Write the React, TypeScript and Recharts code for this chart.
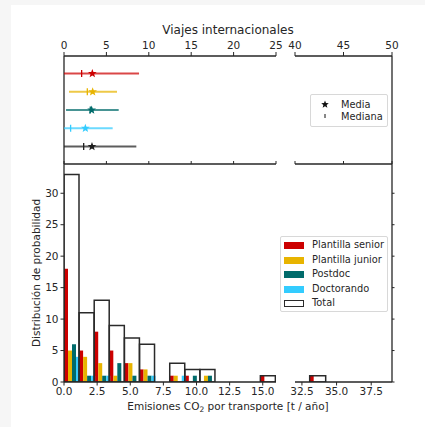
import React from 'react';
import { ComposedChart, Scatter, Bar, XAxis, YAxis } from 'recharts';

const FONT = '"DejaVu Sans", "Liberation Sans", sans-serif';
const INK = '#262626';

// ---- top panel: international trips ----
const groups = ['Plantilla senior', 'Plantilla junior', 'Postdoc', 'Doctorando', 'Total'];
const groupRow = [4, 3, 2, 1, 0];
const travelMean = [3.34, 3.38, 3.26, 2.52, 3.3];
const travelMedian = [2.08, 2.75, 3.1, 0.78, 2.32];
const travelLow = [0, 0.59, 0.24, 0, 0];
const travelHigh = [8.85, 6.25, 6.45, 5.74, 8.53];
const tripTicksLeft = [0, 5, 10, 15, 20, 25];
const tripTicksRight = [40, 45, 50];

// ---- bottom panel: histogram of emissions ----
const binCenters = [0.57, 1.71, 2.85, 3.99, 5.13, 6.27, 7.41, 8.55, 9.69, 10.83, 11.97, 13.11, 14.25, 15.39, 33.63];
const seniorCounts = [18, 5, 8, 5, 3, 2, 0, 1, 1, 0, 0, 0, 0, 1, 1];
const juniorCounts = [5, 4, 3, 1, 3, 2, 0, 1, 0, 1, 0, 0, 0, 0, 0];
const postdocCounts = [6, 1, 1, 3, 1, 1, 0, 0, 1, 1, 0, 0, 0, 0, 0];
const doctorandoCounts = [4, 1, 1, 0, 0, 1, 0, 1, 0, 0, 0, 0, 0, 0, 0];
const totalCounts = [33, 11, 13, 9, 7, 6, 0, 3, 2, 2, 0, 0, 0, 1, 1];
const emisTicksLeft = [0, 2.5, 5, 7.5, 10, 12.5, 15];
const emisTicksRight = [32.5, 35, 37.5];
const countTicks = [0, 5, 10, 15, 20, 25, 30];

const COLORS = ['#cc0000', '#e8b400', '#006b6b', '#33ccff', '#1e1e1e'];
const histKeys = ['senior', 'junior', 'postdoc', 'doctorando'];

const histData = binCenters.map((c, i) => ({
  bin: c,
  senior: seniorCounts[i],
  junior: juniorCounts[i],
  postdoc: postdocCounts[i],
  doctorando: doctorandoCounts[i],
  total: totalCounts[i],
}));

const lineData = groups.map((_, i) => [
  { x: travelLow[i], y: groupRow[i] },
  { x: travelHigh[i], y: groupRow[i] },
]);
const meanData = groups.map((_, i) => ({ x: travelMean[i], y: groupRow[i], idx: i }));
const medianData = groups.map((_, i) => ({ x: travelMedian[i], y: groupRow[i], idx: i }));

const tickStyle = { fill: INK, fontSize: 10.5, fontFamily: FONT };
const axisLineStyle = { stroke: INK, strokeWidth: 1.3 };
const tickLineStyle = { stroke: INK, strokeWidth: 1 };

const starPoints = (cx: number, cy: number, R: number, r: number) => {
  const pts: string[] = [];
  for (let k = 0; k < 10; k++) {
    const a = -Math.PI / 2 + (k * Math.PI) / 5;
    const rad = k % 2 === 0 ? R : r;
    pts.push(`${cx + rad * Math.cos(a)},${cy + rad * Math.sin(a)}`);
  }
  return pts.join(' ');
};

const StarShape = (props: any) => {
  const { cx, cy, payload } = props;
  if (cx == null || cy == null) return <g />;
  return <polygon points={starPoints(cx, cy, 4.6, 1.9)} fill={COLORS[payload.idx]} />;
};

const MedianShape = (props: any) => {
  const { cx, cy, payload } = props;
  if (cx == null || cy == null) return <g />;
  return <line x1={cx} x2={cx} y1={cy - 3.5} y2={cy + 3.5} stroke={COLORS[payload.idx]} strokeWidth={1.3} />;
};

const NoShape = () => <g />;
const NoTick = () => <g />;

function TravelPanel({ side }: { side: 'left' | 'right' }) {
  const isLeft = side === 'left';
  const domain = isLeft ? [0, 25] : [40, 50];
  const ticks = isLeft ? tripTicksLeft : tripTicksRight;
  const width = isLeft ? 300 : 132;
  const margin = isLeft
    ? { top: 36, right: 24, bottom: 0, left: 63 }
    : { top: 36, right: 19, bottom: 0, left: 15 };
  return (
    <ComposedChart width={width} height={174} margin={margin}>
      <XAxis
        xAxisId="top"
        orientation="top"
        type="number"
        dataKey="x"
        domain={domain}
        ticks={ticks}
        allowDataOverflow
        interval={0}
        height={20}
        tickSize={4}
        tickMargin={3}
        tick={tickStyle}
        axisLine={axisLineStyle}
        tickLine={tickLineStyle}
      />
      <XAxis
        xAxisId="bot"
        orientation="bottom"
        type="number"
        dataKey="x"
        domain={domain}
        ticks={ticks}
        allowDataOverflow
        interval={0}
        height={10}
        tickSize={-3}
        tickMargin={0}
        tick={NoTick}
        axisLine={axisLineStyle}
        tickLine={tickLineStyle}
      />
      <YAxis
        yAxisId="y"
        orientation={isLeft ? 'left' : 'right'}
        type="number"
        dataKey="y"
        domain={[-0.96, 4.96]}
        allowDataOverflow
        width={1}
        tick={false}
        tickLine={false}
        axisLine={axisLineStyle}
      />
      {groups.map((g, i) => (
        <Scatter
          key={g}
          name={g}
          xAxisId="top"
          yAxisId="y"
          data={lineData[i]}
          line={{ stroke: COLORS[i], strokeWidth: 2, strokeOpacity: 0.72 }}
          shape={NoShape}
          isAnimationActive={false}
        />
      ))}
      <Scatter name="Mediana" xAxisId="top" yAxisId="y" data={medianData} shape={MedianShape} isAnimationActive={false} />
      <Scatter name="Media" xAxisId="top" yAxisId="y" data={meanData} shape={StarShape} isAnimationActive={false} />
    </ComposedChart>
  );
}

function HistPanel({ side }: { side: 'left' | 'right' }) {
  const isLeft = side === 'left';
  const domain = isLeft ? [0, 16] : [32, 39];
  const ticks = isLeft ? emisTicksLeft : emisTicksRight;
  const width = isLeft ? 300 : 132;
  const margin = isLeft
    ? { top: 14, right: 24, bottom: 0, left: 4 }
    : { top: 14, right: 19, bottom: 0, left: 15 };
  return (
    <ComposedChart width={width} height={262} data={histData} margin={margin} barGap={0} barCategoryGap={0}>
      <XAxis
        xAxisId="a"
        type="number"
        dataKey="bin"
        domain={domain}
        ticks={ticks}
        allowDataOverflow
        interval={0}
        height={30}
        tickSize={3.5}
        tickMargin={2}
        tick={tickStyle}
        tickFormatter={(v: number) => v.toFixed(1)}
        axisLine={axisLineStyle}
        tickLine={tickLineStyle}
      />
      <XAxis xAxisId="t" type="number" dataKey="bin" domain={domain} allowDataOverflow hide />
      <YAxis
        yAxisId="c"
        orientation={isLeft ? 'left' : 'right'}
        type="number"
        domain={[0, 34.65]}
        ticks={countTicks}
        allowDataOverflow
        interval={0}
        width={isLeft ? 60 : 1}
        tickSize={isLeft ? 3.5 : 2.5}
        tickMargin={isLeft ? 2 : 0}
        tick={isLeft ? tickStyle : NoTick}
        axisLine={axisLineStyle}
        tickLine={tickLineStyle}
      />
      {histKeys.map((k, i) => (
        <Bar key={k} xAxisId="a" yAxisId="c" dataKey={k} fill={COLORS[i]} isAnimationActive={false} />
      ))}
      <Bar xAxisId="t" yAxisId="c" dataKey="total" fill="none" stroke="#2a2a2a" strokeWidth={1.5} isAnimationActive={false} />
    </ComposedChart>
  );
}

const abs = (left: number, top: number): React.CSSProperties => ({ position: 'absolute', left, top });

export default function App() {
  const legendLabels = ['Plantilla senior', 'Plantilla junior', 'Postdoc', 'Doctorando', 'Total'];
  return (
    <div style={{ position: 'fixed', left: 0, top: 0, width: 425, height: 427, background: '#f6f6f6', fontFamily: FONT, color: INK }}>
      <div style={{ position: 'absolute', left: 11, top: 5, width: 414, height: 422, background: '#ffffff' }} />
      <div style={abs(0, 0)}><TravelPanel side="left" /></div>
      <div style={abs(280, 0)}><TravelPanel side="right" /></div>
      <div style={abs(0, 150)}><HistPanel side="left" /></div>
      <div style={abs(280, 150)}><HistPanel side="right" /></div>

      {/* title */}
      <div style={{ position: 'absolute', left: 128, top: 22, width: 200, textAlign: 'center', fontSize: 12, lineHeight: '16px' }}>
        Viajes internacionales
      </div>

      {/* x label */}
      <div style={{ position: 'absolute', left: 78, top: 399, width: 300, textAlign: 'center', fontSize: 10.5, lineHeight: '14px', whiteSpace: 'nowrap' }}>
        Emisiones CO<sub style={{ fontSize: 7.5, verticalAlign: '-2px', lineHeight: 0 }}>2</sub> por transporte [t / año]
      </div>

      {/* y label */}
      <div style={{ position: 'absolute', left: 36 - 100, top: 273 - 7, width: 200, height: 14, textAlign: 'center', fontSize: 10.5, lineHeight: '14px', transform: 'rotate(-90deg)', whiteSpace: 'nowrap' }}>
        Distribución de probabilidad
      </div>

      {/* top legend */}
      <div style={{ position: 'absolute', left: 310, top: 94, width: 76, height: 31, border: '1px solid #d8d8d8', borderRadius: 2, background: '#fff' }}>
        <svg width={30} height={31} style={{ position: 'absolute', left: 0, top: 0 }}>
          <polygon points={starPoints(14, 9.5, 4, 1.7)} fill="#111" />
          <line x1={14} x2={14} y1={19} y2={23} stroke="#111" strokeWidth={1} />
        </svg>
        <div style={{ position: 'absolute', left: 30, top: 4, fontSize: 9.8, lineHeight: '11px' }}>Media</div>
        <div style={{ position: 'absolute', left: 30, top: 15.5, fontSize: 9.8, lineHeight: '11px' }}>Mediana</div>
      </div>

      {/* bottom legend */}
      <div style={{ position: 'absolute', left: 280, top: 236, width: 106, height: 74, border: '1px solid #d8d8d8', borderRadius: 2, background: '#fff' }}>
        {legendLabels.map((lab, i) => (
          <div key={lab} style={{ position: 'absolute', left: 0, top: 1 + i * 14.5, height: 14, width: 106 }}>
            <div
              style={{
                position: 'absolute',
                left: 3,
                top: 4,
                width: i === 4 ? 18 : 20,
                height: i === 4 ? 5 : 7,
                background: i === 4 ? '#fff' : COLORS[i],
                border: i === 4 ? '1px solid #2a2a2a' : 'none',
              }}
            />
            <div style={{ position: 'absolute', left: 31, top: 0, fontSize: 9.8, lineHeight: '14px', whiteSpace: 'nowrap' }}>{lab}</div>
          </div>
        ))}
      </div>
    </div>
  );
}
